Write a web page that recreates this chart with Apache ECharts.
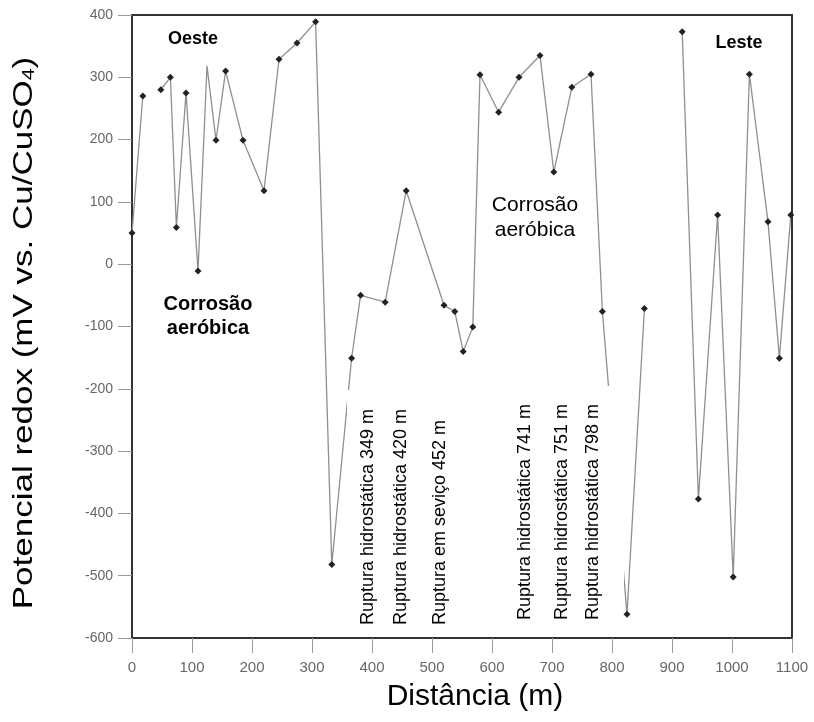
<!DOCTYPE html>
<html>
<head>
<meta charset="utf-8">
<script src="https://cdn.jsdelivr.net/npm/echarts@6/dist/echarts.min.js"></script>
<style>
html,body{margin:0;padding:0;background:#fff;}
#chart{width:814px;height:722px;}
</style>
</head>
<body>
<div id="chart"></div>
<script>
// Distance along pipeline (m)
const distance = [0, 18, 48, 64, 74, 90, 110, 125, 140, 156, 185, 220, 245, 275, 306, 333,
  366, 381, 422, 457, 520, 538, 552, 568, 580, 611, 645, 680, 703, 733, 765, 784, 825, 854,
  917, 944, 976, 1002, 1029, 1060, 1079, 1098];
// Redox potential (mV vs. Cu/CuSO4)
const potential = [50, 270, 280, 300, 59, 275, -11, 318, 199, 310, 199, 118, 329, 355, 389, -482,
  -151, -50, -61, 118, -66, -76, -140, -101, 304, 244, 300, 335, 148, 284, 305, -76, -562, -71,
  373, -377, 79, -502, 305, 68, -151, 79];
// line is interrupted after these distances
const breakAfter = [18, 854];
// points drawn without a marker
const noMarker = [125];

const xTicks = [0, 100, 200, 300, 400, 500, 600, 700, 800, 900, 1000, 1100];
const yTicks = [-600, -500, -400, -300, -200, -100, 0, 100, 200, 300, 400];

const ruptureLabelsLeft = ['Ruptura hidrostática 349 m', 'Ruptura hidrostática 420 m', 'Ruptura em seviço 452 m'];
const ruptureLabelsRight = ['Ruptura hidrostática 741 m', 'Ruptura hidrostática 751 m', 'Ruptura hidrostática 798 m'];

const seriesData = [];
distance.forEach((d, i) => {
  const item = {value: [d, potential[i]]};
  if (noMarker.includes(d)) item.symbol = 'none';
  seriesData.push(item);
  if (breakAfter.includes(d)) seriesData.push({value: [null, null]});
});

const FONT = 'Liberation Sans, Arial, sans-serif';
const chart = echarts.init(document.getElementById('chart'), null, {renderer: 'canvas'});

function vText(txt, x, y) {
  return {
    type: 'text', x: x, y: y, rotation: Math.PI / 2, z: 200,
    style: {text: txt, fontSize: 18, fontFamily: FONT, fill: '#000', align: 'left', verticalAlign: 'middle'}
  };
}

const option = {
  backgroundColor: '#fff',
  animation: false,
  grid: {left: 132, right: 22, top: 15, bottom: 84, show: true, borderColor: '#333', borderWidth: 2, backgroundColor: 'transparent'},
  xAxis: {
    type: 'value', min: xTicks[0], max: xTicks[xTicks.length - 1], interval: 100,
    name: 'Distância (m)', nameLocation: 'middle', nameGap: 44,
    nameTextStyle: {fontSize: 30, fontFamily: FONT, color: '#000', padding: [0, 0, 0, 26]},
    axisLine: {show: true, onZero: false, lineStyle: {color: '#333', width: 2}},
    axisTick: {show: true, length: 15, lineStyle: {color: '#999', width: 1}},
    axisLabel: {color: '#666', fontSize: 15, fontFamily: FONT, margin: 22, formatter: v => String(v)},
    splitLine: {show: false}
  },
  yAxis: {
    type: 'value', min: yTicks[0], max: yTicks[yTicks.length - 1], interval: 100,
    axisLine: {show: true, onZero: false, lineStyle: {color: '#333', width: 2}},
    axisTick: {show: true, length: 14, lineStyle: {color: '#999', width: 1}},
    axisLabel: {color: '#666', fontSize: 14, fontFamily: FONT, margin: 19, formatter: v => String(v)},
    splitLine: {show: false}
  },
  series: [{
    type: 'line',
    data: seriesData,
    connectNulls: false,
    symbol: 'diamond', symbolSize: 7,
    itemStyle: {color: '#222'},
    lineStyle: {color: '#8f8f8f', width: 1.3},
    z: 2
  }],
  graphic: [
    {type: 'rect', shape: {x: 347, y: 390, width: 105, height: 242}, style: {fill: '#fff'}, z: 100},
    {type: 'rect', shape: {x: 508, y: 386, width: 116, height: 220}, style: {fill: '#fff'}, z: 100},
    vText(ruptureLabelsLeft[0], 368, 625),
    vText(ruptureLabelsLeft[1], 401, 625),
    vText(ruptureLabelsLeft[2], 440, 625),
    vText(ruptureLabelsRight[0], 525, 620),
    vText(ruptureLabelsRight[1], 562, 620),
    vText(ruptureLabelsRight[2], 593, 620),
    {type: 'text', x: 24, y: 333, rotation: Math.PI / 2, scaleX: 1.25, z: 200,
      style: {text: 'Potencial redox (mV vs. Cu/CuSO{sub|4})', fontSize: 28, fontFamily: FONT, fill: '#000',
        align: 'center', verticalAlign: 'middle',
        rich: {sub: {fontSize: 17, fontFamily: FONT, fill: '#000', padding: [10, 0, 0, 0]}}}},
    {type: 'text', x: 193, y: 39, z: 200, style: {text: 'Oeste', fontSize: 18, fontWeight: 'bold', fontFamily: FONT, fill: '#000', align: 'center', verticalAlign: 'middle'}},
    {type: 'text', x: 739, y: 43, z: 200, style: {text: 'Leste', fontSize: 18, fontWeight: 'bold', fontFamily: FONT, fill: '#000', align: 'center', verticalAlign: 'middle'}},
    {type: 'text', x: 208, y: 316, z: 200, style: {text: 'Corrosão\naeróbica', fontSize: 20, lineHeight: 24, fontWeight: 'bold', fontFamily: FONT, fill: '#000', align: 'center', verticalAlign: 'middle'}},
    {type: 'text', x: 535, y: 218, z: 200, style: {text: 'Corrosão\naeróbica', fontSize: 21, lineHeight: 25, fontFamily: FONT, fill: '#000', align: 'center', verticalAlign: 'middle'}}
  ]
};
chart.setOption(option);
</script>
</body>
</html>
